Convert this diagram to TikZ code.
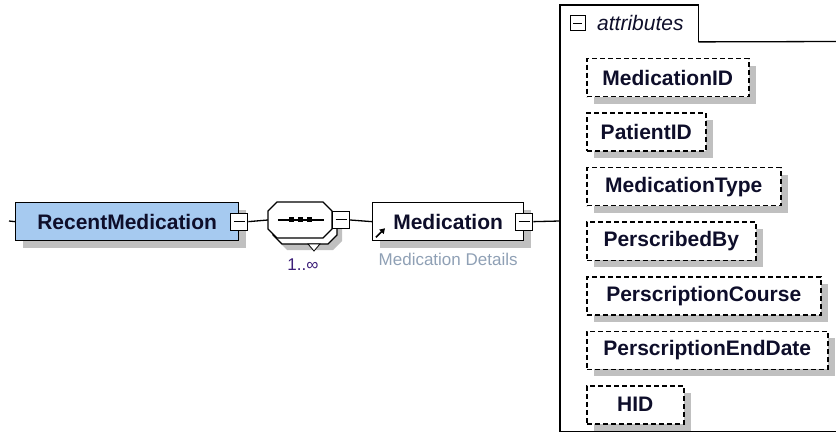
\documentclass[tikz,border=0pt]{standalone}
\usepackage{fontspec}
\setmainfont{Liberation Sans}
\usepackage{xcolor}
\usepackage{tikz}
\usetikzlibrary{positioning, arrows.meta, shadows}
\definecolor{elemblue}{HTML}{A6CAF0}
\definecolor{shadowgray}{HTML}{C0C0C0}
\definecolor{docgray}{HTML}{8FA0B5}
\definecolor{occpurple}{HTML}{3C1E78}
\definecolor{labeldark}{HTML}{0E0E2A}

\newcommand{\octpath}{(-32,9) -- (-23,18) -- (23,18) -- (32,9) -- (32,-9) -- (23,-18) -- (-23,-18) -- (-32,-9) -- cycle}

\tikzset{
  boxshadow/.style={drop shadow={shadow xshift=7pt, shadow yshift=-7pt, fill=shadowgray, opacity=1}},
  elembox/.style={draw, line width=1.3pt, minimum height=38pt, inner sep=0pt, anchor=north west,
                  text=labeldark, font=\fontsize{21}{24}\selectfont\bfseries, boxshadow},
  attrbox/.style={elembox, fill=white, line width=1.5pt, dash pattern=on 5pt off 3pt},
  minusbox/.style={draw, fill=white, line width=1pt, minimum size=17pt, inner sep=0pt,
                   path picture={\draw[line width=1pt] ([xshift=3pt]path picture bounding box.west)
                                 -- ([xshift=-3pt]path picture bounding box.east);}},
  link/.style={line width=1.3pt},
}

\begin{document}
\begin{tikzpicture}[x=1pt, y=1pt]
  \useasboundingbox (0,0) rectangle (836,-433);

  % root element
  \coordinate (start) at (9,-221);
  \node[elembox, fill=elemblue, minimum width=223pt] (recent) at (15,-202) {RecentMedication};
  \node[minusbox] (recentminus) at (recent.east) {};
  \draw[link] (start) -- (recent.west);

  % sequence compositor, 1..unbounded
  \begin{scope}[shift={(300,-220)}]
    \fill[shadowgray, shift={(10,-12)}] \octpath;
    \draw[link, fill=white, shift={(5,-6)}] \octpath;
    \draw[link, fill=white] \octpath;
  \end{scope}
  \node[minimum width=64pt, minimum height=36pt, inner sep=0pt] (seq) at (300,-220) {};
  \draw[link] ([xshift=10pt]seq.west) -- ([xshift=-8pt]seq.east);
  \foreach \dx in {-9,0,9}
    \fill ([xshift=\dx pt]seq.center) +(-2.5,-2.5) rectangle +(2.5,2.5);
  \draw[line width=0.8pt, fill=white] (308,-244) -- (320,-244) -- (314,-251) -- cycle;
  \node[minusbox, right=0pt of seq] (seqminus) {};
  \node[text=occpurple, font=\fontsize{17}{20}\selectfont] (occurs) at (303,-265) {1..∞};
  \draw[link] (recentminus.east) -- (seq.west);

  % referenced element
  \node[elembox, fill=white, minimum width=151pt] (med) at (372,-202) {Medication};
  \node[minusbox] (medminus) at (med.east) {};
  \draw[-{Triangle[length=5pt,width=6pt]}, line width=1.6pt] ([shift={(4pt,4pt)}]med.south west) -- ++(9,9);
  \node[below=8pt of med, text=docgray, font=\fontsize{17}{20}\selectfont] (meddoc) {Medication Details};
  \draw[link] (seqminus.east) -- (med.west);

  % attributes frame
  \node[anchor=north west, minimum width=138pt, minimum height=36.5pt, inner sep=0pt] (attrtab) at (560,-5) {};
  \node[minusbox, minimum size=15pt] (attrminus) at (577.5,-23.5) {};
  \node[anchor=west, inner sep=0pt, text=labeldark, font=\fontsize{21}{24}\selectfont\itshape] (attrlabel) at (597,-23) {attributes};
  \draw[link] (attrtab.south east) -- (840,-41.5);
  \draw[link] (840,-431.5) -- (560,-431.5) -- (attrtab.north west) -- (attrtab.north east) -- (attrtab.south east);
  \coordinate (attrjoin) at (560,-221);
  \draw[link] (medminus.east) -- (attrjoin);

  % attribute boxes
  \node[attrbox, minimum width=162pt] (medid) at (586,-58) {MedicationID};
  \node[attrbox, minimum width=119pt, below=15pt of medid.south west, anchor=north west] (patid) {PatientID};
  \node[attrbox, minimum width=194pt, below=15pt of patid.south west, anchor=north west] (medtype) {MedicationType};
  \node[attrbox, minimum width=169pt, below=15pt of medtype.south west, anchor=north west] (persby) {PerscribedBy};
  \node[attrbox, minimum width=234pt, below=15pt of persby.south west, anchor=north west] (perscourse) {PerscriptionCourse};
  \node[attrbox, minimum width=241pt, below=15pt of perscourse.south west, anchor=north west] (persend) {PerscriptionEndDate};
  \node[attrbox, minimum width=97pt, below=15pt of persend.south west, anchor=north west] (hid) {HID};
\end{tikzpicture}
\end{document}
